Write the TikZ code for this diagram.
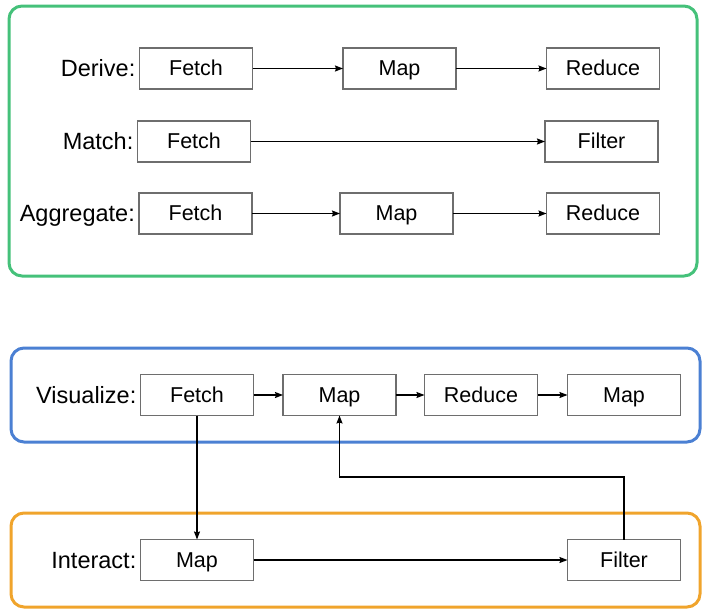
\documentclass[tikz,border=0pt]{standalone}
\usepackage{fontspec}
\setmainfont{Liberation Sans}
\usetikzlibrary{arrows.meta,positioning}
\definecolor{framegreen}{HTML}{45C17A}
\definecolor{frameblue}{HTML}{4B80D3}
\definecolor{frameorange}{HTML}{F0A42C}
\definecolor{boxgray}{HTML}{6E6E6E}
\tikzset{
       arr/.style = {-{Stealth[length=8pt,width=6pt,inset=1pt]}, line width=1.3pt},
     stage/.style = {draw=boxgray, line width=1.5pt, minimum width=113pt,
                     minimum height=41pt, inner sep=0pt, outer sep=0pt,
                     text height=15.5pt, text depth=1.5pt,
                     font=\fontsize{21.5pt}{24pt}\selectfont},
      task/.style = {inner sep=1pt, text height=17.2pt, text depth=1pt,
                     font=\fontsize{23.5pt}{26pt}\selectfont},
     frame/.style = {line width=3pt, rounded corners=13pt},
        }
\begin{document}
\begin{tikzpicture}[x=1pt,y=-1pt]
\useasboundingbox (0,0) rectangle (709,613);
% frames
\draw[frame,framegreen] (9,6) rectangle (697,276);
\draw[frame,frameblue] (11,348) rectangle (700,442);
\draw[frame,frameorange] (11,513) rectangle (700,607);
% derive
\node[stage] (df) at (196,68.5) {Fetch};
\node[stage,right=90.5pt of df] (dm) {Map};
\node[stage,right=90.5pt of dm] (dr) {Reduce};
\node[task,left=3pt of df] (dl) {Derive:};
% match
\node[stage] (mf) at (194,141.5) {Fetch};
\node[stage,right=294.5pt of mf] (mfl) {Filter};
\node[task,left=3pt of mf] (ml) {Match:};
% aggregate
\node[stage] (af) at (195.5,213.5) {Fetch};
\node[stage,right=88pt of af] (am) {Map};
\node[stage,right=93.5pt of am] (ar) {Reduce};
\node[task,left=3pt of af] (al) {Aggregate:};
% visualize
\node[stage] (vf) at (197,395) {Fetch};
\node[stage,right=29.5pt of vf] (vm) {Map};
\node[stage,right=28.5pt of vm] (vr) {Reduce};
\node[stage,right=30pt of vr] (vm2) {Map};
\node[task,left=3pt of vf] (vl) {Visualize:};
% interact
\node[stage,below=124pt of vf] (im) {Map};
\node[stage,below=124pt of vm2] (ifl) {Filter};
\node[task,left=3pt of im] (il) {Interact:};
% arrows
\draw[arr] (df) -- (dm);
\draw[arr] (dm) -- (dr);
\draw[arr] (mf) -- (mfl);
\draw[arr] (af) -- (am);
\draw[arr] (am) -- (ar);
\draw[arr] (vf) -- (vm);
\draw[arr] (vm) -- (vr);
\draw[arr] (vr) -- (vm2);
\draw[arr] (vf) -- (im);
\draw[arr] (im) -- (ifl);
\coordinate (turn) at (ifl.north |- 0,477);
\draw[arr] (ifl.north) -- (turn) -| (vm.south);
\end{tikzpicture}
\end{document}
